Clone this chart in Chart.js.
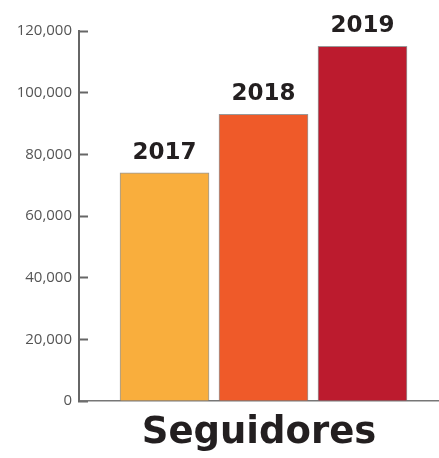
<!DOCTYPE html>
<html>
<head>
<meta charset="utf-8">
<script src="https://cdn.jsdelivr.net/npm/chart.js@4/dist/chart.umd.min.js"></script>
<style>
  html, body { margin: 0; padding: 0; background: #fff; }
  #wrap { width: 439px; height: 458px; }
</style>
</head>
<body>
<div id="wrap"><canvas id="chart"></canvas></div>
<script>
// years shown above the bars
const categories = ["2017", "2018", "2019"];
// followers per year
const followers = [74000, 93000, 115000];
const barColors = ["#f9ae3d", "#ef5a29", "#bc1b2e"];
const axisTitle = "Seguidores";

// write the year above each bar
const yearLabels = {
  id: 'yearLabels',
  afterDatasetsDraw: function(chart) {
    const ctx = chart.ctx;
    const meta = chart.getDatasetMeta(0);
    ctx.save();
    ctx.font = 'bold 23px "DejaVu Sans"';
    ctx.fillStyle = '#231f20';
    ctx.textAlign = 'center';
    ctx.textBaseline = 'alphabetic';
    meta.data.forEach((bar, i) => {
      ctx.fillText(categories[i], bar.x, bar.y - 14);
    });
    ctx.restore();
  }
};

new Chart(document.getElementById('chart'), {
  type: 'bar',
  data: {
    datasets: [{
      data: followers.map((v, i) => ({ x: i, y: v })),
      backgroundColor: barColors,
      borderColor: 'rgba(110,110,110,0.7)',
      borderWidth: 1,
      barThickness: 89
    }]
  },
  options: {
    responsive: true,
    maintainAspectRatio: false,
    animation: false,
    layout: { padding: { top: 31, right: 0, left: 0, bottom: 0 } },
    plugins: { legend: { display: false }, tooltip: { enabled: false } },
    scales: {
      x: {
        type: 'linear',
        offset: false,
        min: -0.8636,
        max: 2.7727,
        ticks: { display: false },
        grid: { display: false, offset: false },
        border: { display: true, color: '#777', width: 1.5 },
        title: {
          display: true,
          text: axisTitle,
          color: '#231f20',
          font: { family: '"DejaVu Sans"', size: 37, weight: 'bold' },
          padding: { top: 0, bottom: 2 }
        },
        afterFit: (scale) => { scale.height = 57; }
      },
      y: {
        min: 0,
        max: 120000,
        ticks: {
          stepSize: 20000,
          padding: 16,
          color: '#555',
          font: { family: '"Open Sans"', size: 15 },
          callback: (v) => v.toLocaleString('en-US')
        },
        grid: {
          drawOnChartArea: false,
          drawTicks: true,
          tickLength: -9,
          tickWidth: 2,
          tickColor: '#666'
        },
        border: { display: true, color: '#666', width: 2 },
        afterFit: (scale) => { scale.width = 79; }
      }
    }
  },
  plugins: [yearLabels]
});
</script>
</body>
</html>
